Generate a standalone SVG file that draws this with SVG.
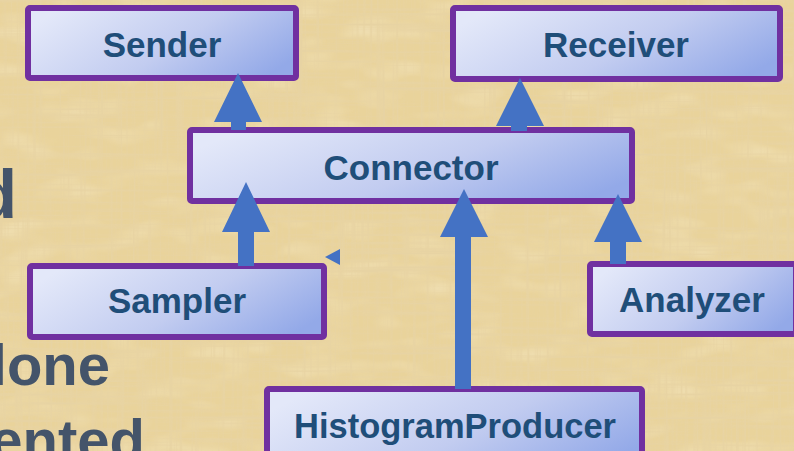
<svg xmlns="http://www.w3.org/2000/svg" width="794" height="451" viewBox="0 0 794 451">
  <defs>
    <!-- parchment texture: darker and lighter fibres laid over a warm base -->
    <filter id="paper" x="0" y="0" width="100%" height="100%">
      <feTurbulence type="fractalNoise" baseFrequency="0.006 0.3" numOctaves="3" seed="4" result="v"/>
      <feColorMatrix in="v" type="matrix" values="0 0 0 0 0.80  0 0 0 0 0.66  0 0 0 0 0.40  3.0 0 0 0 -1.35" result="vDark"/>
      <feTurbulence type="fractalNoise" baseFrequency="0.3 0.006" numOctaves="3" seed="9" result="h"/>
      <feColorMatrix in="h" type="matrix" values="0 0 0 0 0.80  0 0 0 0 0.66  0 0 0 0 0.40  3.0 0 0 0 -1.4" result="hDark"/>
      <feTurbulence type="fractalNoise" baseFrequency="0.02 0.05" numOctaves="2" seed="2" result="m"/>
      <feColorMatrix in="m" type="matrix" values="0 0 0 0 0.95  0 0 0 0 0.87  0 0 0 0 0.66  1.6 0 0 0 -0.75" result="light"/>
      <feMerge>
        <feMergeNode in="light"/>
        <feMergeNode in="vDark"/>
        <feMergeNode in="hDark"/>
      </feMerge>
    </filter>
    <linearGradient id="boxFill" x1="0" y1="0.3" x2="1" y2="0.7">
      <stop offset="0" stop-color="#E3E8F9"/>
      <stop offset="0.55" stop-color="#C2CCF0"/>
      <stop offset="1" stop-color="#93A9E8"/>
    </linearGradient>
    <style>
      .box { fill: url(#boxFill); stroke: #7030A0; stroke-width: 6; }
      .label { font-family: "Liberation Sans", Arial, sans-serif; font-weight: bold; font-size: 35px; fill: #1F4E79; text-anchor: middle; }
      .side { font-family: "Liberation Sans", Arial, sans-serif; font-weight: bold; fill: #44546A; text-anchor: end; }
      .arrow { fill: #4472C4; }
    </style>
  </defs>

  <!-- background -->
  <rect x="0" y="0" width="794" height="451" fill="#E9D39B"/>
  <rect x="0" y="0" width="794" height="451" fill="#E9D39B" filter="url(#paper)" opacity="0.55"/>

  <!-- body text running in from the left edge -->
  <g id="side-text">
    <text class="side" x="17" y="218" font-size="68">d</text>
    <text class="side" x="110" y="385" font-size="58">lone</text>
    <text class="side" x="145" y="460" font-size="58">ented</text>
  </g>

  <g id="sender">
    <rect class="box" x="28" y="8" width="268" height="70" rx="2"/>
    <text class="label" x="162" y="57">Sender</text>
  </g>
  <g id="receiver">
    <rect class="box" x="453" y="8" width="327" height="71" rx="2"/>
    <text class="label" x="616" y="57">Receiver</text>
  </g>
  <g id="connector">
    <rect class="box" x="190" y="130" width="442" height="71" rx="2"/>
    <text class="label" x="411" y="180">Connector</text>
  </g>
  <g id="sampler">
    <rect class="box" x="30" y="266" width="294" height="71" rx="2"/>
    <text class="label" x="177" y="313">Sampler</text>
  </g>
  <g id="analyzer">
    <rect class="box" x="590" y="264" width="206" height="70" rx="2"/>
    <text class="label" x="692" y="312">Analyzer</text>
  </g>
  <g id="histogram-producer">
    <rect class="box" x="267" y="389" width="375" height="80" rx="2"/>
    <text class="label" x="455" y="438" textLength="322" lengthAdjust="spacingAndGlyphs">HistogramProducer</text>
  </g>

  <g id="connectors">
    <!-- Connector to Sender -->
    <polygon class="arrow" points="238,73 262,122 246,122 246,130 231,130 231,122 214,122"/>
    <!-- Connector to Receiver -->
    <polygon class="arrow" points="520,78 544,126 527,126 527,131 511,131 511,126 496,126"/>
    <!-- Sampler to Connector -->
    <polygon class="arrow" points="246,182 270,232 254,232 254,266 238,266 238,232 222,232"/>
    <!-- HistogramProducer to Connector -->
    <polygon class="arrow" points="464,189 488,237 471,237 471,389 455,389 455,237 440,237"/>
    <!-- Analyzer to Connector -->
    <polygon class="arrow" points="618,194 642,242 626,242 626,264 610,264 610,242 594,242"/>
    <!-- small stray pointer -->
    <polygon class="arrow" points="325,257 340,249 340,265"/>
  </g>
</svg>
